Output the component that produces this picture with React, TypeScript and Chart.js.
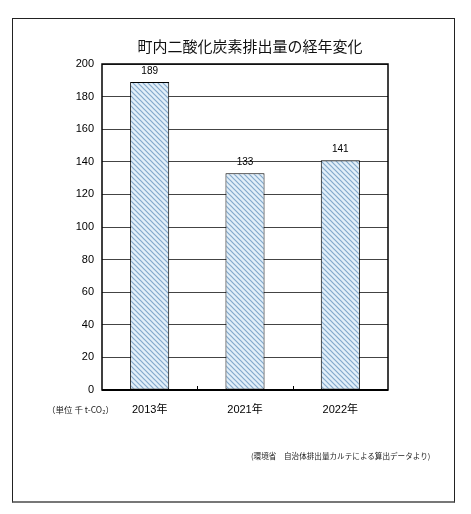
import React, { useEffect, useRef } from 'react';
import { Chart, registerables } from 'chart.js';

Chart.register(...registerables);

const years = ['2013年', '2021年', '2022年'];
const emissions = [189, 133, 141];
const yTicks = [0, 20, 40, 60, 80, 100, 120, 140, 160, 180, 200];

const JP_FONT = '"Liberation Sans", "Noto Sans CJK JP", sans-serif';

function makeHatch(): CanvasPattern | string {
    const size = 5;
    const c = document.createElement('canvas');
    c.width = size;
    c.height = size;
    const ctx = c.getContext('2d');
    if (!ctx) return '#d6e8f5';
    ctx.fillStyle = '#e2eff9';
    ctx.fillRect(0, 0, size, size);
    ctx.strokeStyle = '#84a9cc';
    ctx.lineWidth = 1.2;
    // "\" direction stripes, continued across tile edges
    ctx.beginPath();
    ctx.moveTo(-1, -1);
    ctx.lineTo(size + 1, size + 1);
    ctx.moveTo(-1, size - 1);
    ctx.lineTo(1, size + 1);
    ctx.moveTo(size - 1, -1);
    ctx.lineTo(size + 1, 1);
    ctx.stroke();
    return ctx.createPattern(c, 'repeat') || '#d6e8f5';
}

// frame around the plot area, small ticks between categories, value labels
const framePlugin = {
    id: 'frameAndLabels',
    afterDatasetsDraw(chart: any) {
        const { ctx, chartArea } = chart;
        const x = chart.scales.x;
        ctx.save();
        ctx.strokeStyle = '#000';
        ctx.lineWidth = 1.5;
        ctx.strokeRect(chartArea.left, chartArea.top, chartArea.right - chartArea.left, chartArea.bottom - chartArea.top);
        ctx.lineWidth = 2;
        ctx.beginPath();
        ctx.moveTo(chartArea.left, chartArea.bottom);
        ctx.lineTo(chartArea.right, chartArea.bottom);
        ctx.stroke();
        ctx.lineWidth = 1;
        for (let i = 1; i < years.length; i++) {
            const px = Math.round(x.getPixelForValue(i - 0.5)) + 0.5;
            ctx.beginPath();
            ctx.moveTo(px, chartArea.bottom);
            ctx.lineTo(px, chartArea.bottom - 4);
            ctx.stroke();
        }
        const meta = chart.getDatasetMeta(0);
        ctx.fillStyle = '#000';
        ctx.font = '10px ' + JP_FONT;
        ctx.textAlign = 'center';
        ctx.textBaseline = 'bottom';
        meta.data.forEach((bar: any, i: number) => {
            ctx.fillText(String(emissions[i]), bar.x, bar.y - 6);
        });
        ctx.restore();
    },
};

function EmissionChart() {
    const chartRef = useRef<HTMLCanvasElement | null>(null);
    const chartInstance = useRef<Chart | null>(null);

    useEffect(() => {
        if (!chartRef.current) return;
        if (chartInstance.current) chartInstance.current.destroy();
        const ctx = chartRef.current.getContext('2d');
        if (!ctx) return;

        chartInstance.current = new Chart(ctx, {
            type: 'bar',
            data: {
                labels: years,
                datasets: [{
                    data: emissions,
                    backgroundColor: makeHatch(),
                    borderColor: '#000',
                    borderWidth: 1,
                    borderSkipped: false,
                    categoryPercentage: 1,
                    barPercentage: 0.41,
                }],
            },
            options: {
                animation: false,
                responsive: false,
                devicePixelRatio: 1,
                layout: { padding: { left: 0, right: 83, top: 64, bottom: 94 } },
                plugins: {
                    legend: { display: false },
                    tooltip: { enabled: false },
                    title: { display: false },
                },
                scales: {
                    x: {
                        grid: { display: false },
                        border: { display: false },
                        ticks: { color: '#000', font: { size: 11, family: JP_FONT }, padding: 5 },
                        afterFit: (scale: any) => { scale.height = 30; },
                    },
                    y: {
                        min: 0,
                        max: 200,
                        afterBuildTicks: (scale: any) => {
                            scale.ticks = yTicks.map(v => ({ value: v }));
                        },
                        grid: { color: '#444', lineWidth: 1, drawTicks: false },
                        border: { display: false },
                        ticks: { color: '#000', font: { size: 11, family: JP_FONT }, padding: 8 },
                        afterFit: (scale: any) => { scale.width = 102; },
                    },
                },
            },
            plugins: [framePlugin],
        });

        return () => {
            if (chartInstance.current) {
                chartInstance.current.destroy();
                chartInstance.current = null;
            }
        };
    }, []);

    return <canvas ref={chartRef} width={471} height={514} style={{ position: 'absolute', left: 0, top: 0, width: 471, height: 514 }} />;
}

export default function App() {
    return (
        <div style={{ position: 'absolute', left: 0, top: 0, width: 471, height: 514, background: '#fff', fontFamily: '"Noto Sans CJK JP", sans-serif' }}>
            <div style={{
                position: 'absolute', left: 12, top: 18, width: 441, height: 482,
                borderLeft: '1px solid #222', borderTop: '1px solid #222', borderRight: '1.5px solid #222', borderBottom: '2.5px solid #777',
            }} />
            <EmissionChart />
            <div style={{ position: 'absolute', left: 0, width: 500, top: 36, textAlign: 'center', fontSize: 15, lineHeight: '20px', color: '#111' }}>
                町内二酸化炭素排出量の経年変化
            </div>
            <div style={{ position: 'absolute', left: 47, top: 403, fontSize: 8.5, lineHeight: '12px', color: '#222', whiteSpace: 'nowrap' }}>
                （単位 千 t-CO₂）
            </div>
            <div style={{ position: 'absolute', left: 251, top: 450, fontSize: 7.6, lineHeight: '12px', color: '#222', whiteSpace: 'nowrap' }}>
                (環境省　自治体排出量カルテによる算出データより)
            </div>
        </div>
    );
}
